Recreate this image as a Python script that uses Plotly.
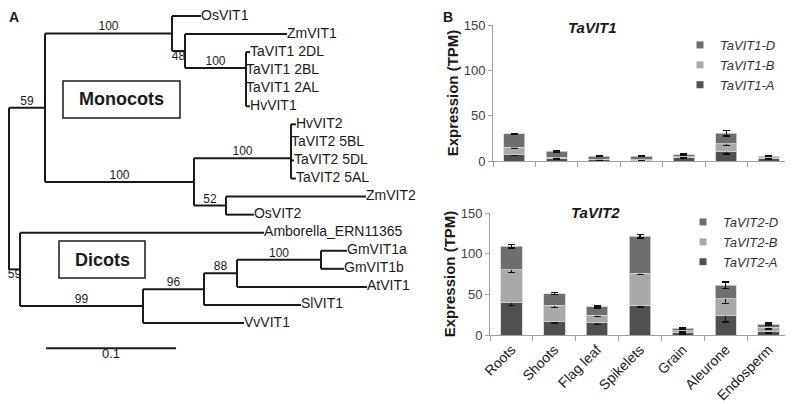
import plotly.graph_objects as go

# ---------------- Panel A: phylogenetic tree ----------------
tree_nodes = ["root", "mono", "n169", "OsVIT1", "n180", "ZmVIT1", "n241", "TaVIT1 2DL", "t1",
              "TaVIT1 2BL", "t2", "TaVIT1 2AL", "HvVIT1", "n190", "n287", "t3", "HvVIT2", "t4",
              "TaVIT2 5BL", "TaVIT2 5DL", "TaVIT2 5AL", "n222", "ZmVIT2", "OsVIT2", "dicot",
              "Amborella_ERN11365", "n139", "n200", "n233", "n317", "GmVIT1a", "GmVIT1b",
              "AtVIT1", "SlVIT1", "VvVIT1"]
tree_parents = [None, "root", "mono", "n169", "n169", "n180", "n180", "n241", "n241",
                "t1", "t1", "t2", "t2", "mono", "n190", "n287", "t3", "t3",
                "t4", "t4", "n287", "n190", "n222", "n222", "root",
                "dicot", "dicot", "n139", "n200", "n233", "n317", "n317",
                "n233", "n200", "n139"]
branch_len = [0, 0.0277, 0.0977, 0.0223, 0.0100, 0.0785, 0.0469, 0.0031, 0,
              0, 0, 0, 0.0031, 0.1146, 0.0746, 0, 0.0038, 0,
              0, 0.0023, 0.0038, 0.0246, 0.1077, 0.0215, 0.0085,
              0.1877, 0.0946, 0.0469, 0.0254, 0.0646, 0.0200, 0.0177,
              0.1000, 0.0746, 0.0777]
bootstrap = {"mono": 59, "n169": 100, "n180": 48, "n241": 100, "n190": 100, "n287": 100,
             "n222": 52, "dicot": 59, "n139": 99, "n200": 96, "n233": 88, "n317": 100}
bootstrap_below = ["n180", "dicot"]
scale_bar = 0.1

# ---------------- Panel B: expression (TPM) ----------------
tissues = ["Roots", "Shoots", "Flag leaf", "Spikelets", "Grain", "Aleurone", "Endosperm"]

vit1_a = [7, 2.5, 1.5, 1, 3.5, 11, 2.5]
vit1_b = [8, 1.5, 0.5, 0.5, 1, 8, 1]
vit1_d = [15, 6.5, 3.5, 4, 2.5, 11.5, 2]
vit1_a_err = [0.8, 0.8, 0.8, 0.8, 1, 3, 1]
vit1_b_err = [0.8, 0.5, 0.3, 0.3, 0.5, 2, 0.5]
vit1_d_err = [0.5, 0.5, 0.5, 0.5, 0.5, 3, 0.5]

vit2_a = [40, 16.5, 15, 36.5, 2.5, 24, 4]
vit2_b = [40, 20, 9, 39.5, 2.5, 20.5, 5.5]
vit2_d = [29, 14.5, 10.5, 45.5, 3.5, 16.5, 4]
vit2_a_err = [3.5, 2, 2, 2, 1, 8, 1.5]
vit2_b_err = [3, 2.5, 1, 1.5, 1, 5.5, 2]
vit2_d_err = [2, 1.5, 1, 2, 1, 4, 1.5]

col_a, col_b, col_d = "#505050", "#a9a9a9", "#6e6e6e"

W, H = 793, 404
OFF = 8  # the page puts the figure 8px in from the top left corner


def px(x):
    return (x - OFF) / W


def py(y):
    return 1 - (y - OFF) / H


# tree layout
children = {n: [] for n in tree_nodes}
for n, p in zip(tree_nodes, tree_parents):
    if p is not None:
        children[p].append(n)

node_x = {}
for n, p, bl in zip(tree_nodes, tree_parents, branch_len):
    node_x[n] = 0.0 if p is None else node_x[p] + bl

leaves = [n for n in tree_nodes if not children[n]]
node_y = {n: i for i, n in enumerate(leaves)}


def set_y(n):
    if n in node_y:
        return node_y[n]
    ys = [set_y(c) for c in children[n]]
    node_y[n] = (ys[0] + ys[-1]) / 2
    return node_y[n]


set_y("root")

lx, ly = [], []
for n, p in zip(tree_nodes, tree_parents):
    if p is not None:
        lx += [node_x[p], node_x[n], None]
        ly += [node_y[n], node_y[n], None]
    if children[n]:
        lx += [node_x[n], node_x[n], None]
        ly += [node_y[children[n][0]], node_y[children[n][-1]], None]

fig = go.Figure()

fig.add_trace(go.Scatter(x=lx, y=ly, mode="lines", line=dict(color="#1a1a1a", width=2),
                         hoverinfo="skip", showlegend=False, xaxis="x", yaxis="y"))

fig.add_trace(go.Scatter(
    x=[node_x[n] for n in leaves], y=[node_y[n] for n in leaves],
    mode="text", text=leaves, textposition="middle right",
    textfont=dict(size=14, color="#1a1a1a"), showlegend=False, xaxis="x", yaxis="y"))

for pos, below in [("top center", False), ("bottom center", True)]:
    sel = [n for n in bootstrap if (n in bootstrap_below) == below]
    fig.add_trace(go.Scatter(
        x=[(node_x[n] + node_x[tree_parents[tree_nodes.index(n)]]) / 2 for n in sel],
        y=[node_y[n] for n in sel],
        mode="text", text=[str(bootstrap[n]) for n in sel], textposition=pos,
        textfont=dict(size=12, color="#1a1a1a"), showlegend=False, xaxis="x", yaxis="y"))

# scale bar
sb_x0 = 0.0285
sb_y = 18.4
fig.add_trace(go.Scatter(x=[sb_x0, sb_x0 + scale_bar], y=[sb_y, sb_y], mode="lines",
                         line=dict(color="#1a1a1a", width=2), showlegend=False,
                         xaxis="x", yaxis="y"))
fig.add_trace(go.Scatter(x=[sb_x0 + scale_bar / 2], y=[sb_y], mode="text",
                         text=[str(scale_bar)], textposition="bottom center",
                         textfont=dict(size=13, color="#1a1a1a"), showlegend=False,
                         xaxis="x", yaxis="y"))

# bar panels
panels = [
    ("x2", "y2", "legend", "TaVIT1",
     [("A", vit1_a, vit1_a_err, col_a), ("B", vit1_b, vit1_b_err, col_b),
      ("D", vit1_d, vit1_d_err, col_d)]),
    ("x3", "y3", "legend2", "TaVIT2",
     [("A", vit2_a, vit2_a_err, col_a), ("B", vit2_b, vit2_b_err, col_b),
      ("D", vit2_d, vit2_d_err, col_d)]),
]

for xa, ya, leg, gene, series in panels:
    for sub, vals, errs, col in series:
        fig.add_trace(go.Bar(
            x=tissues, y=vals, marker=dict(color=col, line=dict(color="#d4d4d4", width=0.8)),
            error_y=dict(type="data", array=errs, color="#111111", thickness=1.5, width=3.5),
            showlegend=False, xaxis=xa, yaxis=ya))
    for sub, vals, errs, col in series:
        fig.add_trace(go.Scatter(
            x=[None], y=[None], mode="markers", name=f"<i>{gene}-{sub}</i>",
            marker=dict(symbol="square", size=7, color=col),
            legend=leg, legendgroup=f"{gene}{sub}", xaxis=xa, yaxis=ya))

yax_common = dict(range=[0, 150], tickvals=[0, 50, 100, 150], showgrid=False, zeroline=False,
                  showline=True, linecolor="#a0a0a0", linewidth=1, ticks="outside", ticklen=4,
                  tickcolor="#a0a0a0", tickfont=dict(size=13, color="#404040"),
                  automargin=False,
                  title=dict(text="<b>Expression (TPM)</b>", font=dict(size=15, color="#1a1a1a"),
                             standoff=1))
xax_common = dict(showgrid=False, zeroline=False, showline=True, linecolor="#a0a0a0",
                  linewidth=1, ticks="outside", ticklen=5, tickcolor="#a0a0a0",
                  tickson="boundaries", automargin=False)
legend_common = dict(xanchor="left", yanchor="top", traceorder="reversed",
                     bgcolor="rgba(0,0,0,0)", tracegroupgap=2,
                     font=dict(size=13, color="#333333"))

# tree axes: root at screen x=9, 1300 px per unit; leaf 0 at screen y=16
tree_px_per_unit = 1300
leaf0 = 16
leaf_step = (323 - leaf0) / 17

fig.update_layout(
    width=W, height=H,
    margin=dict(l=0, r=0, t=0, b=0, autoexpand=False),
    paper_bgcolor="white", plot_bgcolor="white",
    font=dict(family="Liberation Sans, Arial, sans-serif", color="#1a1a1a"),
    barmode="stack", bargap=0.5,
    xaxis=dict(domain=[0, 440 / W],
               range=[-(9 - OFF) / tree_px_per_unit, (440 - (9 - OFF)) / tree_px_per_unit],
               visible=False, automargin=False),
    yaxis=dict(domain=[0, 1],
               range=[(H - (leaf0 - OFF)) / leaf_step, -(leaf0 - OFF) / leaf_step],
               visible=False, automargin=False),
    xaxis2=dict(domain=[px(493), px(790)], anchor="y2", showticklabels=False, **xax_common),
    yaxis2=dict(domain=[py(161), py(25)], anchor="x2", **yax_common),
    xaxis3=dict(domain=[px(490), px(790)], anchor="y3", tickangle=-45,
                tickfont=dict(size=14, color="#1a1a1a"), **xax_common),
    yaxis3=dict(domain=[py(335), py(213)], anchor="x3", **yax_common),
    legend=dict(x=px(680), y=py(30), **legend_common),
    legend2=dict(x=px(683), y=py(207), **legend_common),
    shapes=[
        dict(type="rect", xref="paper", yref="paper", x0=px(63), x1=px(180), y0=py(118),
             y1=py(81), line=dict(color="#1a1a1a", width=1.5)),
        dict(type="rect", xref="paper", yref="paper", x0=px(59), x1=px(145), y0=py(278),
             y1=py(241), line=dict(color="#1a1a1a", width=1.5)),
    ],
    annotations=[
        dict(text="<b>A</b>", x=0, y=1, xref="paper", yref="paper", xanchor="left",
             yanchor="top", showarrow=False, font=dict(size=14), borderpad=0),
        dict(text="<b>B</b>", x=px(442), y=1, xref="paper", yref="paper", xanchor="left",
             yanchor="top", showarrow=False, font=dict(size=14), borderpad=0),
        dict(text="<b><i>TaVIT1</i></b>", x=px(592), y=py(27), xref="paper", yref="paper",
             xanchor="center", yanchor="middle", showarrow=False, font=dict(size=15)),
        dict(text="<b><i>TaVIT2</i></b>", x=px(595), y=py(212), xref="paper", yref="paper",
             xanchor="center", yanchor="middle", showarrow=False, font=dict(size=15)),
        dict(text="<b>Monocots</b>", x=px(121.5), y=py(99.5), xref="paper", yref="paper",
             xanchor="center", yanchor="middle", showarrow=False, font=dict(size=18)),
        dict(text="<b>Dicots</b>", x=px(102), y=py(259.5), xref="paper", yref="paper",
             xanchor="center", yanchor="middle", showarrow=False, font=dict(size=18)),
    ],
)

fig.write_html("out.html")
